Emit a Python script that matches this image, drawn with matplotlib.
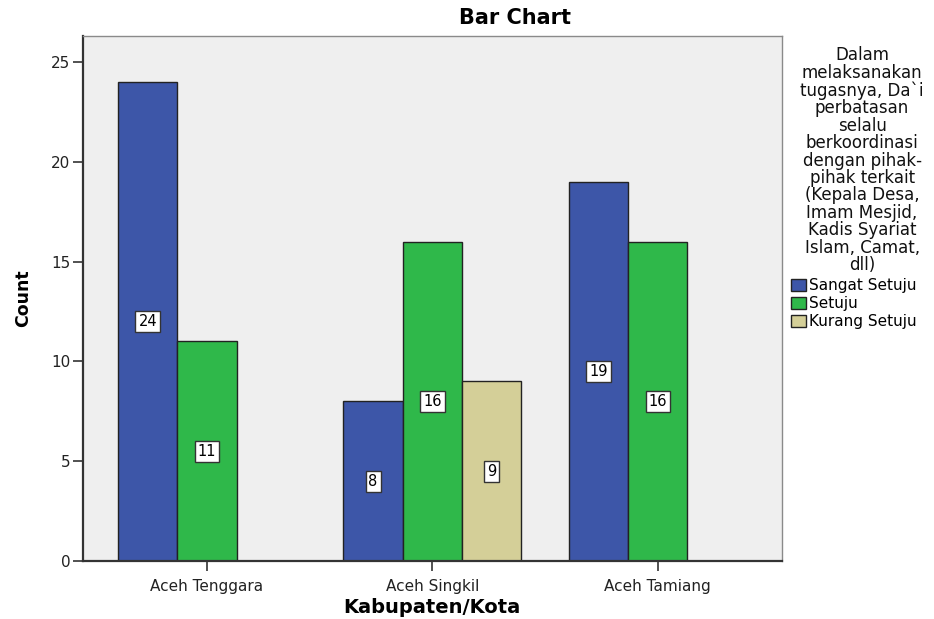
import matplotlib
matplotlib.use("Agg")
import matplotlib.pyplot as plt
from matplotlib.patches import Patch
import numpy as np

# counts per district for each response category
districts = ["Aceh Tenggara", "Aceh Singkil", "Aceh Tamiang"]
responses = ["Sangat Setuju", "Setuju", "Kurang Setuju"]
sangat_setuju = [24, 8, 19]
setuju = [11, 16, 16]
kurang_setuju = [0, 9, 0]   # 0 = category not present, no bar drawn

colors = ["#3d56a8", "#2fb84a", "#d4cf98"]
legend_title = ("Dalam\nmelaksanakan\ntugasnya, Da`i\nperbatasan\nselalu\n"
                "berkoordinasi\ndengan pihak-\npihak terkait\n(Kepala Desa,\n"
                "Imam Mesjid,\nKadis Syariat\nIslam, Camat,\ndll)")

plt.rcParams['font.family'] = ['DejaVu Sans']

fig = plt.figure(figsize=(9.34, 6.19), dpi=100)
ax = fig.add_axes([0.0889, 0.0937, 0.7481, 0.8481])
ax.set_facecolor("#efefef")

x = np.arange(len(districts))
width = 0.263
series = [sangat_setuju, setuju, kurang_setuju]
for i, vals in enumerate(series):
    offs = (i - 1) * width
    for xi, v in zip(x, vals):
        if v == 0:
            continue
        ax.bar(xi + offs, v, width=width, color=colors[i], edgecolor="#222222",
               linewidth=1.0, zorder=2)
        # value label boxed at half height
        ax.text(xi + offs, v / 2, str(v), ha="center", va="center", fontsize=10.5,
                zorder=3,
                bbox=dict(boxstyle="square,pad=0.2", facecolor="white",
                          edgecolor="#333333", linewidth=1.0))

ax.set_xlim(-0.55, 2.55)
ax.set_ylim(0, 26.3)
ax.set_yticks([0, 5, 10, 15, 20, 25])
ax.set_xticks(x)
ax.set_xticklabels(districts, fontsize=11)
ax.tick_params(axis="y", labelsize=11, length=7, width=1.2, color="#333333",
               labelcolor="#222222", pad=2)
ax.tick_params(axis="x", length=7, width=1.2, color="#333333",
               labelcolor="#222222", pad=6)

for side in ["top", "right"]:
    ax.spines[side].set_color("#8a8a8a")
    ax.spines[side].set_linewidth(1.0)
for side in ["left", "bottom"]:
    ax.spines[side].set_color("#333333")
    ax.spines[side].set_linewidth(1.6)

ax.set_ylabel("Count", fontsize=12.5, fontweight="bold",
              family=["Liberation Sans Narrow", "DejaVu Sans"], labelpad=14)

fig.text(0.462, 0.019, "Kabupaten/Kota", ha="center", va="center", fontsize=14,
         fontweight="bold")
fig.text(0.551, 0.971, "Bar Chart", ha="center", va="center", fontsize=15,
         fontweight="bold")

# legend title as a centered block, entries below it
fig.text(0.923, 0.925, legend_title, ha="center", va="top", fontsize=12,
         linespacing=0.96, color="#111111")
handles = [Patch(facecolor=c, edgecolor="#222222", linewidth=1.0) for c in colors]
fig.legend(handles, responses, loc="upper left", bbox_to_anchor=(0.847, 0.551),
           frameon=False, fontsize=11, handlelength=1.0, handleheight=0.85,
           handletextpad=0.2, labelspacing=0.2, borderaxespad=0, borderpad=0)

fig.savefig("out.png", dpi=100)
